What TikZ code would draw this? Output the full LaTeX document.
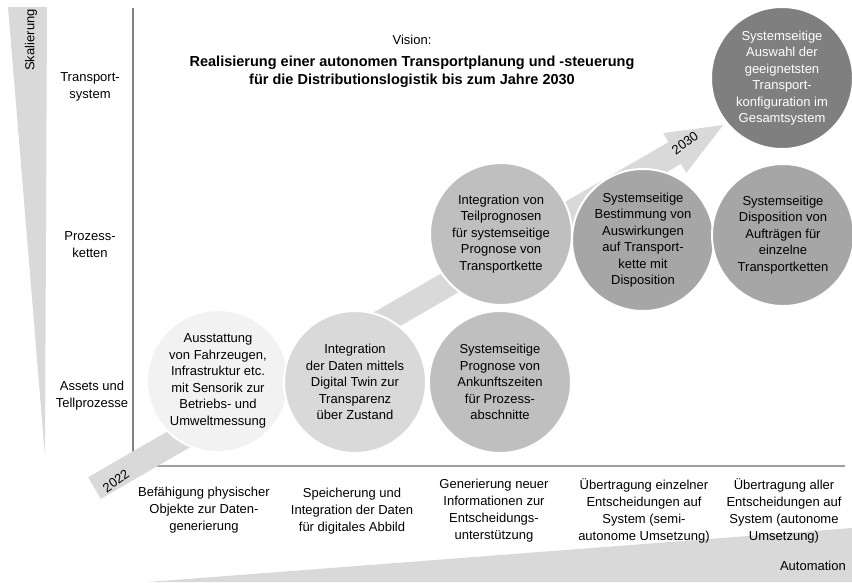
\documentclass[tikz,border=0pt]{standalone}
\usepackage{fontspec}
\setmainfont{Liberation Sans}
\definecolor{bandgrey}{HTML}{D9D9D9}
\definecolor{gA}{HTML}{F2F2F2}
\definecolor{gB}{HTML}{D9D9D9}
\definecolor{gC}{HTML}{BFBFBF}
\definecolor{gD}{HTML}{A6A6A6}
\definecolor{gE}{HTML}{7F7F7F}
\definecolor{axisgrey}{HTML}{808080}
\definecolor{baseaxis}{HTML}{A0A0A0}
\begin{document}
\begin{tikzpicture}[x=1pt,y=-1pt,
  circ/.style={circle, minimum size=142pt, inner sep=0pt, draw=white, line width=2pt, align=center, font=\fontsize{13}{16.5}\selectfont},
  lab/.style={align=center, inner sep=0pt, font=\fontsize{13}{17}\selectfont},
  yearlab/.style={inner sep=0pt, font=\fontsize{13}{15}\selectfont}]
\useasboundingbox (0,0) rectangle (852,582);
% scale wedges
\fill[bandgrey] (8,7) -- (47,7) -- (45,456) -- cycle;
\fill[bandgrey] (148,582) -- (852,528) -- (852,582) -- cycle;
% axes
\coordinate (top) at (133,8);
\coordinate (orig) at (133,466);
\coordinate (right) at (845,466);
\draw[axisgrey, line width=1.2pt] (top) -- (orig);
\draw[baseaxis, line width=2.4pt] (orig) -- (right);
% roadmap band
\begin{scope}[shift={(94.5,488)}, rotate=30]
\fill[bandgrey] (0,-12.5) -- (670,-12.5) -- (670,-23) -- (726,0) -- (670,23) -- (670,12.5) -- (0,12.5) -- cycle;
\end{scope}
\node[yearlab, rotate=36] (y2022) at (116,481) {2022};
\node[yearlab, rotate=36] (y2030) at (685,143) {2030};
% circles
\node[circ, fill=gA] (c1) at (218,381) {Ausstattung\\von Fahrzeugen,\\Infrastruktur etc.\\mit Sensorik zur\\Betriebs- und\\Umweltmessung};
\node[circ, fill=gB] (c2) at (355,382) {Integration\\der Daten mittels\\Digital Twin zur\\Transparenz\\über Zustand};
\node[circ, fill=gC] (c3) at (500,382) {Systemseitige\\Prognose von\\Ankunftszeiten\\für Prozess-\\abschnitte};
\node[circ, fill=gC] (c4) at (501,234) {Integration von\\Teilprognosen\\für systemseitige\\Prognose von\\Transportkette};
\node[circ, fill=gD] (c5) at (643,240) {Systemseitige\\Bestimmung von\\Auswirkungen\\auf Transport-\\kette mit\\Disposition};
\node[circ, fill=gD] (c6) at (783,235) {Systemseitige\\Disposition von\\Aufträgen für\\einzelne\\Transportketten};
\node[circ, fill=gE, text=white] (c7) at (782,78) {Systemseitige\\Auswahl der\\geeignetsten\\Transport-\\konfiguration im\\Gesamtsystem};
% left labels
\node[lab, rotate=90] (skal) at (31,40) {Skalierung};
\node[lab] (l1) at (90,87) {Transport-\\system};
\node[lab] (l2) at (90,245) {Prozess-\\ketten};
\node[lab] (l3) at (92,396) {Assets und\\Tellprozesse};
% title
\node[lab] (vis) at (412,40) {Vision:};
\node[lab, font=\bfseries\fontsize{14.5}{17.5}\selectfont] (title) at (412,72) {Realisierung einer autonomen Transportplanung und -steuerung\\für die Distributionslogistik bis zum Jahre 2030};
% bottom labels
\node[lab] (b1) at (204,510) {Befähigung physischer\\Objekte zur Daten-\\generierung};
\node[lab] (b2) at (352,511) {Speicherung und\\Integration der Daten\\für digitales Abbild};
\node[lab] (b3) at (494,511) {Generierung neuer\\Informationen zur\\Entscheidungs-\\unterstützung};
\node[lab] (b4) at (644,511) {Übertragung einzelner\\Entscheidungen auf\\System (semi-\\autonome Umsetzung)};
\node[lab] (b5) at (784,511) {Übertragung aller\\Entscheidungen auf\\System (autonome\\Umsetzung)};
\node[lab, anchor=east] (auto) at (846,566) {Automation};
\end{tikzpicture}
\end{document}
